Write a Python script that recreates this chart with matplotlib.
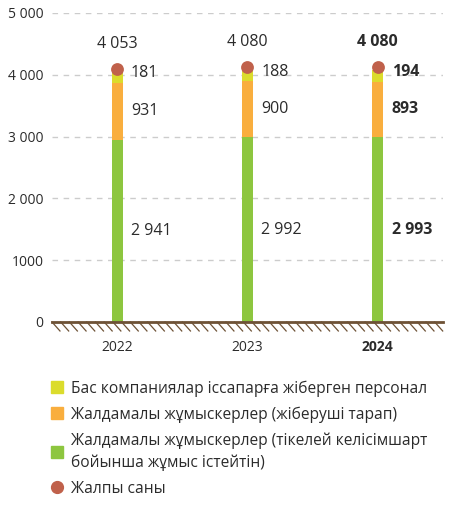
import matplotlib
matplotlib.use("Agg")
from matplotlib import pyplot as plt
from matplotlib.lines import Line2D
import numpy as np

plt.rcParams['font.family'] = ['Open Sans', 'DejaVu Sans']

years = ["2022", "2023", "2024"]
direct = [2941, 2992, 2993]
agency = [931, 900, 893]
seconded = [181, 188, 194]
totals = [4053, 4080, 4080]
yticks = [0, 1000, 2000, 3000, 4000, 5000]
ytick_labels = ["0", "1000", "2 000", "3 000", "4 000", "5 000"]

labels = ["Бас компаниялар іссапарға жіберген персонал",
          "Жалдамалы жұмыскерлер (жіберуші тарап)",
          "Жалдамалы жұмыскерлер (тікелей келісімшарт\nбойынша жұмыс істейтін)",
          "Жалпы саны"]

c_green = "#8dc63f"
c_orange = "#f9ae3e"
c_yellow = "#dbdc2c"
c_dot = "#c0614b"
c_text = "#2b2b2b"
c_ground = "#6e5236"

fig = plt.figure(figsize=(4.58, 5.09), dpi=100)
ax = fig.add_axes([0.1135, 0.3674, 0.8535, 0.6071])

x = np.arange(len(years))
w = 0.085
ax.bar(x, direct, w, color=c_green, zorder=3)
ax.bar(x, agency, w, bottom=direct, color=c_orange, zorder=3)
bot2 = np.array(direct) + np.array(agency)
ax.bar(x, seconded, w, bottom=bot2, color=c_yellow, zorder=3)
ax.scatter(x, np.array(totals) + 40, s=85, color=c_dot, zorder=4, linewidths=0)

for i in range(len(years)):
    fw = "bold" if i == len(years) - 1 else "normal"
    ax.annotate(f"{totals[i]:,}".replace(",", " "), (x[i], totals[i]),
                xytext=(0, 20), textcoords="offset points", ha="center",
                va="center", fontsize=11.5, color=c_text, fontweight=fw)
    mids = [direct[i] / 2, direct[i] + agency[i] / 2,
            bot2[i] + seconded[i] / 2 + 60]
    vals = [direct[i], agency[i], seconded[i]]
    for m, v in zip(mids, vals):
        ax.annotate(f"{v:,}".replace(",", " "), (x[i], m), xytext=(10, 0),
                    textcoords="offset points", ha="left", va="center",
                    fontsize=11.5, color=c_text, fontweight=fw)

ax.set_xlim(-0.5, 2.5)
ax.set_ylim(0, 5000)
ax.set_yticks(yticks)
ax.set_yticklabels(ytick_labels, fontsize=10, color=c_text)
ax.set_xticks(x)
ax.set_xticklabels(years, fontsize=10, color=c_text)
ax.get_xticklabels()[-1].set_fontweight("bold")
ax.tick_params(axis="both", length=0)
ax.tick_params(axis="x", pad=13)
ax.tick_params(axis="y", pad=6)
ax.grid(axis="y", color="#cccccc", linestyle=(0, (4, 4)), linewidth=1)
for s in ax.spines.values():
    s.set_visible(False)

# ground line with hatching
ax.axhline(0, color=c_ground, linewidth=2, zorder=5, clip_on=False)
dx = 3 / 391 * 8
dy = 5000 / 309 * 9
for xs in np.arange(-0.5, 2.5, 3 / 391 * 8.7):
    ax.plot([xs, xs + dx], [0, -dy], color=c_ground, linewidth=0.9,
            clip_on=False, zorder=5)

handles = [Line2D([], [], marker="s", linestyle="", color=c_yellow, markersize=8.5),
           Line2D([], [], marker="s", linestyle="", color=c_orange, markersize=8.5),
           Line2D([], [], marker="s", linestyle="", color=c_green, markersize=8.5),
           Line2D([], [], marker="o", linestyle="", color=c_dot, markersize=8.5)]
leg = fig.legend(handles, labels, loc="upper left", bbox_to_anchor=(0.097, 0.265),
                 frameon=False, fontsize=11.2, handlelength=0.8, handletextpad=0.5,
                 labelspacing=0.62, labelcolor=c_text, borderaxespad=0)
for t in leg.get_texts():
    t.set_linespacing(1.45)

fig.savefig("out.png", dpi=100)
